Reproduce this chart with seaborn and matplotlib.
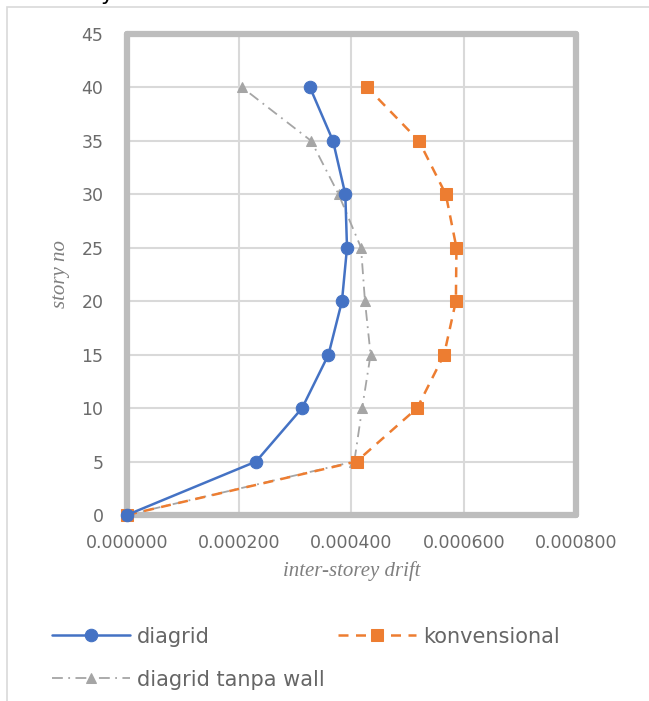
import numpy as np
import pandas as pd
import matplotlib
matplotlib.use("Agg")
import matplotlib.pyplot as plt
import seaborn as sns
from matplotlib.patches import Rectangle
from matplotlib.ticker import FormatStrFormatter

# ---------------- data ----------------
story = [0, 5, 10, 15, 20, 25, 30, 35, 40]
drift_diagrid = [0.0, 0.000230, 0.000312, 0.000359, 0.000383, 0.000392, 0.000389, 0.000367, 0.000326]
drift_konv = [0.0, 0.000409, 0.000517, 0.000565, 0.000586, 0.000587, 0.000568, 0.000520, 0.000428]
drift_tanpa = [0.0, 0.000405, 0.000419, 0.000434, 0.000424, 0.000417, 0.000377, 0.000328, 0.000205]

x_ticks = [0.0, 0.0002, 0.0004, 0.0006, 0.0008]
y_ticks = [0, 5, 10, 15, 20, 25, 30, 35, 40, 45]

df = pd.DataFrame({
    "story": story * 3,
    "drift": drift_diagrid + drift_konv + drift_tanpa,
    "seri": ["diagrid"] * 9 + ["konvensional"] * 9 + ["diagrid tanpa wall"] * 9,
})

sns.set_style("white")
plt.rcParams["font.family"] = ["DejaVu Sans"]

fig = plt.figure(figsize=(6.49, 7.01), dpi=100)
ax = fig.add_axes([0.1957, 0.2654, 0.6918, 0.6862])

# outer chart border (only top and left edge fall inside the picture)
fig.patches.append(Rectangle((0.011, -0.2), 1.2, 1.19, transform=fig.transFigure,
                             fill=False, edgecolor="#d9d9d9", lw=1.2))
# cut-off text from the page above
fig.text(0.155, 1.0, "y", fontsize=16, color="black", va="baseline", ha="left")

style = {
    "diagrid": dict(color="#4472C4", marker="o", ls="-", ms=9, lw=1.8, zorder=4),
    "konvensional": dict(color="#ED7D31", marker="s", ls=(0, (4, 3)), ms=9, lw=1.8, zorder=3),
    "diagrid tanpa wall": dict(color="#A5A5A5", marker="^", ls=(0, (6, 3, 1, 3)), ms=7, lw=1.3, zorder=2),
}

handles = {}
for name in ["diagrid tanpa wall", "konvensional", "diagrid"]:
    st = style[name]
    sub = df[df["seri"] == name]
    sns.lineplot(data=sub, x="drift", y="story", ax=ax, sort=False, estimator=None,
                 color=st["color"], marker=st["marker"], markersize=st["ms"],
                 markeredgecolor=st["color"], linewidth=st["lw"], zorder=st["zorder"],
                 linestyle=st["ls"], label=name, clip_on=False)
    handles[name] = ax.lines[-1]

ax.set_xlim(0, 0.0008)
ax.set_ylim(0, 45)
ax.set_xticks(x_ticks)
ax.set_yticks(y_ticks)
ax.xaxis.set_major_formatter(FormatStrFormatter("%.6f"))
ax.grid(True, color="#d9d9d9", lw=1.5)
ax.tick_params(length=0, labelsize=12.5, colors="#6b6b6b")
ax.tick_params(axis="x", pad=14)
ax.tick_params(axis="y", pad=17)
for sp in ax.spines.values():
    sp.set_visible(True)
    sp.set_color("#bdbdbd")
    sp.set_linewidth(4.5)
    sp.set_capstyle("round")

ax.set_xlabel("inter-storey drift", family="Liberation Serif", style="italic",
              fontsize=15, color="#7f7f7f", labelpad=6)
ax.set_ylabel("story no", family="Liberation Serif", style="italic",
              fontsize=15, color="#7f7f7f", labelpad=8)

ax.get_legend().remove()
leg_kw = dict(loc="upper left", frameon=False, fontsize=15, handlelength=3.75,
              labelspacing=1.1, handletextpad=0.35, borderpad=0, borderaxespad=0)
col1 = ["diagrid", "diagrid tanpa wall"]
leg1 = fig.legend([handles[n] for n in col1], col1, bbox_to_anchor=(0.080, 0.106), **leg_kw)
leg2 = fig.legend([handles["konvensional"]], ["konvensional"], bbox_to_anchor=(0.521, 0.106), **leg_kw)
for lg in (leg1, leg2):
    for t in lg.get_texts():
        t.set_color("#666666")

plt.savefig("out.png", dpi=100)
